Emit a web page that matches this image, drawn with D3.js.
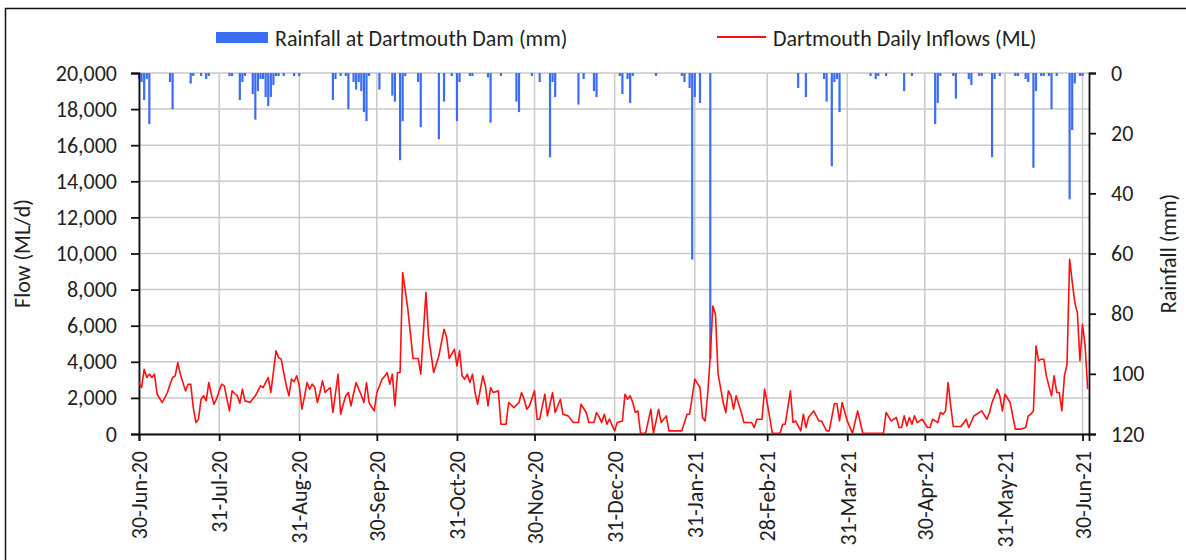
<!DOCTYPE html>
<html>
<head>
<meta charset="utf-8">
<script src="https://cdn.jsdelivr.net/npm/d3@7"></script>
<style>
  body { margin: 0; background: #fff; }
  text { font-family: Carlito, Calibri, Lato, sans-serif; fill: #1f1f1f; }
</style>
</head>
<body>
<div class="chart"></div>
<script>
// day 0 = 30-Jun-20
var startDate = "2020-06-30";

var tickDates = ["2020-06-30", "2020-07-31", "2020-08-31", "2020-09-30", "2020-10-31", "2020-11-30",
                 "2020-12-31", "2021-01-31", "2021-02-28", "2021-03-31", "2021-04-30", "2021-05-31", "2021-06-30"];

// rainfall at Dartmouth Dam (mm), day number + value
var rainDays = [0, 1, 2, 3, 4, 12, 13, 20, 21, 24, 26, 27, 35, 36, 39, 40, 41, 44, 45, 46, 47, 48, 49, 50, 51, 52, 53, 54, 56, 60, 62,
                75, 76, 78, 80, 81, 83, 84, 85, 86, 87, 88, 89, 93, 98, 99, 101, 102, 103, 108, 109, 116, 118, 121, 123, 124, 128, 129,
                135, 136, 140, 146, 147, 152, 155, 159, 160, 161, 170, 172, 176, 177, 186, 187, 189, 190, 191, 200, 210, 211, 213, 214,
                215, 217, 221, 255, 258, 265, 266, 268, 269, 270, 271, 283, 285, 286, 289, 296, 299, 308, 309, 310, 315, 316, 321, 322,
                325, 326, 330, 331, 333, 339, 340, 343, 344, 346, 347, 349, 350, 352, 353, 355, 360, 361, 362, 364, 365];
var rainMM =   [2, 3, 9, 2, 17, 3, 12, 3.5, 1, 1, 2, 1, 1, 1, 9, 3, 1, 7, 15.5, 6, 2, 2, 8, 11, 8, 4, 1, 1, 1, 1, 1,
                9, 2, 1, 1, 12, 3, 5.5, 3, 6, 13, 16, 1, 5.5, 7.5, 9.5, 29, 16, 1, 3, 18, 22, 9.5, 1, 16, 3, 1, 1,
                1.5, 16.5, 1, 9.5, 13, 1, 3, 28, 3, 8, 10.5, 2, 6, 8, 1, 7, 2, 10, 1, 1, 1, 3, 5, 62,
                8, 10, 95, 5, 8, 2, 9.5, 31, 3, 2, 13, 1, 2, 1, 1, 6, 1, 17, 10, 1, 1, 8.5, 2, 4,
                1, 1, 28, 2, 1, 1, 1, 2, 3, 31.5, 6, 1, 1, 1, 12, 1, 42, 19, 3.5, 1, 1];

// Dartmouth daily inflows (ML), day number + value
var inflowDays = [0, 1, 2, 3, 4, 5, 6, 7, 9, 11, 12, 13, 14, 15, 16, 18, 19, 20, 21, 22, 23, 24, 25, 26, 27, 28, 29, 30, 31, 32, 33,
                  34, 35, 36, 37, 38, 39, 40, 41, 42, 43, 44, 45, 46, 47, 48, 49, 50, 51, 52, 53, 54, 55, 56, 57, 58, 59, 60, 61,
                  62, 63, 64, 65, 66, 67, 68, 69, 70, 71, 72, 73, 74, 75, 76, 77, 78, 79, 80, 81, 82, 83, 84, 85, 86, 87, 88, 89,
                  90, 91, 92, 93, 94, 95, 96, 97, 98, 99, 100, 101, 102, 103, 104, 105, 106, 107, 108, 109, 111, 112, 114, 116,
                  118, 119, 120, 122, 123, 124, 125, 126, 127, 128, 129, 130, 131, 133, 134, 135, 136, 137, 139, 140, 142, 143, 145,
                  147, 148, 149, 150, 151, 153, 154, 155, 157, 158, 160, 161, 163, 164, 166, 168, 170, 171, 173, 174, 176, 177,
                  178, 179, 180, 181, 182, 184, 185, 187, 188, 189, 190, 191, 192, 193, 194, 196, 198, 199, 201, 202, 204,
                  205, 210, 212, 213, 215, 217, 218, 219, 220, 221, 222, 223, 224, 225, 226, 227, 228, 229, 230, 231, 232, 233,
                  234, 237, 238, 239, 241, 242, 243, 245, 248, 249, 250, 252, 253, 254, 256, 257, 258, 259, 261, 263, 264,
                  266, 267, 269, 270, 271, 272, 274, 276, 278, 280, 288, 289, 291, 293, 294, 295, 296, 297, 298, 299, 300, 301,
                  303, 305, 306, 307, 309, 310, 311, 312, 313, 314, 315, 318, 320, 321, 323, 324, 326, 328,
                  329, 330, 332, 333, 334, 335, 337, 339, 341, 343, 344, 345, 346, 347, 348, 349, 350, 351, 353,
                  354, 355, 356, 357, 358, 359, 360, 361, 362, 363, 364, 365, 366, 367];
var inflowML = [2810, 2530, 3545, 3085, 3270, 3085, 3270, 2160, 1700, 2255, 2715, 3085, 3180, 3915, 3270, 2345, 2715, 2715, 1420, 590, 775, 1885, 2070, 1790, 2810, 2160, 1605, 1900, 2345, 2715, 2625,
                1900, 1235, 2345, 2200, 2070, 1660, 2440, 1790, 1750, 1700, 1900, 2070, 2350, 2625, 2530, 2810, 3085, 2255, 3400, 4560, 4190, 4100, 3350, 2625, 2070, 2995, 2850, 3180,
                2625, 1330, 2000, 2810, 2440, 2715, 2530, 1700, 2255, 2900, 2255, 2400, 2530, 1145, 2200, 3270, 1050, 1600, 2070, 2255, 1515, 2200, 2810, 2440, 2100, 1700, 2810, 1700,
                1450, 1235, 2255, 2600, 2990, 3150, 3360, 2715, 3270, 1515, 3360, 3360, 8900, 7900, 6870, 5500, 4140, 4140, 4140, 3270, 7800, 5390, 3360, 4285,
                5760, 5300, 4140, 4650, 3730, 4560, 3180, 2995, 3270, 2810, 3270, 2255, 1605, 3180, 2625, 1515, 2530, 2255, 2345, 500, 500, 1700, 1420,
                1700, 2255, 1885, 1330, 1500, 2345, 775, 775, 2160, 960, 2255, 1145, 1885, 1050, 960, 590, 590, 1605, 1145, 590, 590, 1145,
                900, 590, 1050, 500, 775, 130, 590, 680, 2160, 1885, 2070, 1700, 1145, 1235, 0, 0, 1330, 0, 1330, 590, 960,
                130, 130, 1050, 1050, 2995, 2530, 870, 680, 2160, 4300, 7050, 6590, 3300, 2500, 1700, 1145, 2345, 2070, 1330, 2070, 1600, 1145,
                590, 590, 315, 775, 775, 2440, 1700, 0, 0, 500, 500, 2345, 590, 680, 130, 1050, 315, 870, 1235, 680, 680,
                130, 130, 1630, 1630, 680, 1700, 680, 0, 1235, 0, 0, 1145, 680, 870, 315, 315, 960, 405, 870, 500, 960, 590,
                775, 315, 315, 775, 590, 1145, 1050, 1235, 2805, 1515, 370, 370, 775, 315, 960, 1050, 1235, 775,
                1145, 1700, 2440, 2070, 1235, 2160, 1700, 225, 225, 315, 960, 1050, 1235, 4840, 4010, 4100, 4100, 3175, 2070,
                3175, 2255, 2255, 1235, 3175, 3820, 9640, 8400, 7240, 6680, 4010, 6035, 4840, 2440];

var margin = {top: 73, left: 139},
    width = 950,
    height = 361;

var svg = d3.select(".chart")
  .append("svg")
    .attr("width", 1186)
    .attr("height", 560);

// outer frame (cropped on right and bottom)
svg.append("rect")
    .attr("x", 5.5).attr("y", 8.5)
    .attr("width", 1200).attr("height", 600)
    .attr("fill", "none")
    .attr("stroke", "#111")
    .attr("stroke-width", 1.5);

var g = svg.append("g")
    .attr("transform", "translate(" + margin.left + "," + margin.top + ")");

var parse = d3.timeParse("%Y-%m-%d");
var day0 = parse(startDate);
function dayDate(n) { return d3.timeDay.offset(day0, n); }

var x = d3.scaleTime()
    .domain([day0, d3.timeHour.offset(dayDate(367), 12)])
    .range([0, width]);

var yFlow = d3.scaleLinear()
    .domain([0, 20000])
    .range([height, 0]);

var yRain = d3.scaleLinear()
    .domain([0, 120])
    .range([0, height]);

var ticks = tickDates.map(parse);

// gridlines
g.append("g").selectAll("line")
    .data(yFlow.ticks(10))
  .enter().append("line")
    .attr("x1", 0).attr("x2", width)
    .attr("y1", function(d) { return yFlow(d); })
    .attr("y2", function(d) { return yFlow(d); })
    .attr("stroke", "#c9c9c9")
    .attr("stroke-width", 1.5);

g.append("g").selectAll("line")
    .data(ticks)
  .enter().append("line")
    .attr("x1", function(d) { return x(d); })
    .attr("x2", function(d) { return x(d); })
    .attr("y1", 0).attr("y2", height)
    .attr("stroke", "#c9c9c9")
    .attr("stroke-width", 1.5);

// rainfall bars hanging from the top
var rain = rainDays.map(function(d, i) { return {date: dayDate(d), mm: rainMM[i]}; });
g.append("g").selectAll("rect")
    .data(rain)
  .enter().append("rect")
    .attr("x", function(d) { return x(d.date) - 1.1; })
    .attr("y", 0)
    .attr("width", 2.2)
    .attr("height", function(d) { return yRain(d.mm); })
    .attr("fill", "#3a6cf4");

// axes
var fmt = d3.timeFormat("%d-%b-%y");
var fs = "22px";

var xaxis = g.append("g")
    .attr("class", "x axis")
    .attr("transform", "translate(0," + height + ")")
    .call(d3.axisBottom(x).tickValues(ticks).tickFormat(fmt).tickSizeOuter(0).tickSize(7));
xaxis.selectAll("text")
    .attr("transform", "rotate(-90)")
    .attr("x", -17)
    .attr("y", 0)
    .attr("dy", "0.35em")
    .style("text-anchor", "end");

var yaxis = g.append("g")
    .attr("class", "y axis")
    .call(d3.axisLeft(yFlow).ticks(10).tickFormat(d3.format(",")).tickSizeOuter(0).tickSize(8));
yaxis.selectAll("text").attr("x", -22);

var raxis = g.append("g")
    .attr("class", "y2 axis")
    .attr("transform", "translate(" + width + ",0)")
    .call(d3.axisRight(yRain).ticks(6).tickSizeOuter(0).tickSize(7));
raxis.selectAll("text").attr("x", 22).style("text-anchor", "start");

g.selectAll(".axis path, .axis line")
    .attr("stroke", "#111")
    .attr("stroke-width", 1.8);
g.selectAll(".axis text")
    .style("font-size", fs)
    .attr("fill", "#1f1f1f");

// inflow line, on top of the axes like the original
var inflow = inflowDays.map(function(d, i) { return {date: dayDate(d), ml: inflowML[i]}; });
var line = d3.line()
    .x(function(d) { return x(d.date); })
    .y(function(d) { return yFlow(d.ml) - 0.8; });

g.append("path")
    .datum(inflow)
    .attr("fill", "none")
    .attr("stroke", "#ff1010")
    .attr("stroke-width", 1.6)
    .attr("stroke-linejoin", "round")
    .attr("d", line);

// axis titles
svg.append("text")
    .attr("transform", "translate(30," + (margin.top + height / 2) + ") rotate(-90)")
    .style("text-anchor", "middle")
    .style("font-size", fs)
    .text("Flow (ML/d)");

svg.append("text")
    .attr("transform", "translate(1176," + (margin.top + height / 2) + ") rotate(-90)")
    .style("text-anchor", "middle")
    .style("font-size", fs)
    .text("Rainfall (mm)");

// legend
var legend = svg.append("g");
legend.append("rect")
    .attr("x", 216).attr("y", 32)
    .attr("width", 52).attr("height", 11)
    .attr("fill", "#3a6cf4");
legend.append("text")
    .attr("x", 275).attr("y", 38)
    .attr("dy", "0.35em")
    .style("font-size", fs)
    .text("Rainfall at Dartmouth Dam (mm)");
legend.append("line")
    .attr("x1", 717).attr("x2", 766)
    .attr("y1", 37).attr("y2", 37)
    .attr("stroke", "#ff1010")
    .attr("stroke-width", 1.8);
legend.append("text")
    .attr("x", 773).attr("y", 38)
    .attr("dy", "0.35em")
    .style("font-size", fs)
    .text("Dartmouth Daily Inflows (ML)");
</script>
</body>
</html>
